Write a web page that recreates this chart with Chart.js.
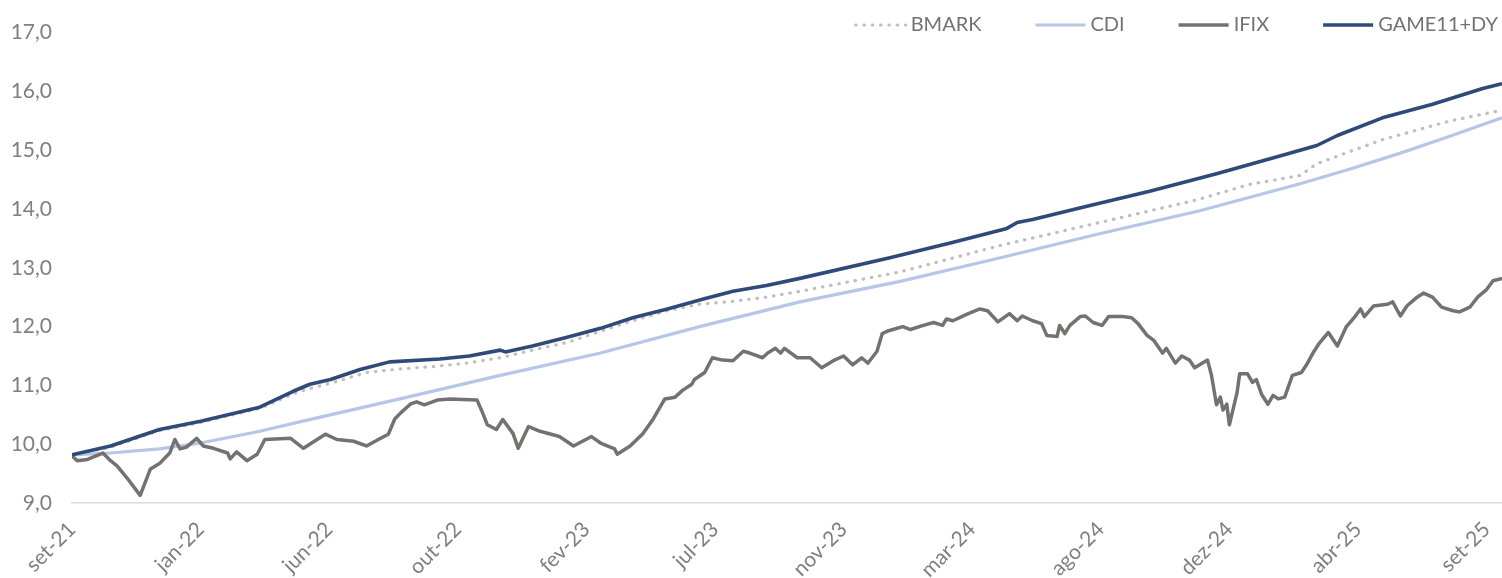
<!DOCTYPE html>
<html>
<head>
<meta charset="utf-8">
<script src="https://cdn.jsdelivr.net/npm/chart.js@4/dist/chart.umd.min.js"></script>
<style>
  html, body { margin: 0; padding: 0; background: #fff; }
  canvas { display: block; }
</style>
</head>
<body>
<canvas id="chart" width="1502" height="578"></canvas>
<script>
// x positions are in "tick interval" units: 0 = set-21, 11 = set-25
const xLabels = ['set-21', 'jan-22', 'jun-22', 'out-22', 'fev-23', 'jul-23', 'nov-23', 'mar-24', 'ago-24', 'dez-24', 'abr-25', 'set-25'];
const xEnd = 11.12;

const gameX = [0, 0.30, 0.68, 1.00, 1.46, 1.72, 1.85, 2.01, 2.24, 2.47, 2.86, 3.09, 3.33, 3.37, 3.58, 3.85, 4.11, 4.36, 4.63, 4.91, 5.14, 5.40, 5.66, 6.36, 6.83, 7.27, 7.35, 7.47, 7.86, 8.38, 8.90, 9.42, 9.68, 9.84, 10.19, 10.58, 10.97, 11.12];
const gameY = [9.82, 9.97, 10.25, 10.39, 10.63, 10.90, 11.02, 11.10, 11.27, 11.40, 11.45, 11.50, 11.60, 11.57, 11.67, 11.82, 11.97, 12.15, 12.30, 12.47, 12.60, 12.70, 12.82, 13.17, 13.42, 13.67, 13.77, 13.82, 14.03, 14.30, 14.60, 14.92, 15.08, 15.25, 15.55, 15.78, 16.05, 16.13];

const bmarkX = [0, 0.30, 0.68, 1.00, 1.46, 1.77, 2.03, 2.29, 2.55, 2.81, 3.07, 3.33, 3.58, 3.85, 4.11, 4.36, 4.63, 4.88, 5.14, 5.40, 5.66, 6.44, 7.22, 7.99, 8.64, 8.77, 9.16, 9.55, 9.68, 10.19, 10.72, 11.12];
const bmarkY = [9.82, 9.95, 10.23, 10.37, 10.61, 10.90, 11.05, 11.22, 11.28, 11.32, 11.38, 11.47, 11.60, 11.73, 11.92, 12.10, 12.27, 12.38, 12.43, 12.50, 12.60, 12.93, 13.38, 13.77, 14.10, 14.17, 14.42, 14.57, 14.77, 15.18, 15.50, 15.68];

const cdiX = [0, 0.30, 0.68, 1.00, 1.46, 1.77, 2.55, 3.33, 4.11, 4.88, 5.66, 6.44, 7.22, 7.99, 8.77, 9.16, 9.55, 9.94, 10.33, 10.72, 11.12];
const cdiY = [9.82, 9.85, 9.92, 10.02, 10.22, 10.38, 10.77, 11.17, 11.55, 12.00, 12.42, 12.77, 13.17, 13.58, 13.97, 14.20, 14.43, 14.68, 14.95, 15.24, 15.55];

const ifixX = [0, 0.04, 0.12, 0.24, 0.30, 0.35, 0.43, 0.53, 0.61, 0.68, 0.76, 0.80, 0.84, 0.89, 0.97, 1.02, 1.10, 1.21, 1.23, 1.28, 1.36, 1.44, 1.50, 1.70, 1.80, 1.97, 2.06, 2.19, 2.29, 2.40, 2.46, 2.51, 2.55, 2.63, 2.68, 2.74, 2.84, 2.94, 3.04, 3.15, 3.19, 3.23, 3.30, 3.35, 3.43, 3.47, 3.55, 3.64, 3.79, 3.90, 3.97, 4.04, 4.11, 4.22, 4.24, 4.34, 4.44, 4.52, 4.61, 4.69, 4.75, 4.82, 4.84, 4.92, 4.98, 5.06, 5.14, 5.22, 5.27, 5.37, 5.41, 5.47, 5.51, 5.54, 5.64, 5.74, 5.83, 5.92, 6.00, 6.07, 6.14, 6.19, 6.26, 6.30, 6.35, 6.46, 6.52, 6.62, 6.70, 6.77, 6.80, 6.85, 6.97, 7.06, 7.12, 7.20, 7.29, 7.35, 7.39, 7.47, 7.54, 7.58, 7.66, 7.68, 7.72, 7.76, 7.84, 7.88, 7.94, 8.01, 8.06, 8.17, 8.24, 8.29, 8.36, 8.41, 8.48, 8.51, 8.58, 8.63, 8.69, 8.73, 8.83, 8.86, 8.90, 8.93, 8.95, 8.98, 9.00, 9.06, 9.08, 9.14, 9.18, 9.21, 9.25, 9.30, 9.34, 9.38, 9.43, 9.49, 9.56, 9.60, 9.65, 9.70, 9.77, 9.84, 9.91, 9.98, 10.02, 10.05, 10.12, 10.23, 10.27, 10.33, 10.38, 10.46, 10.51, 10.58, 10.65, 10.74, 10.79, 10.87, 10.93, 11.00, 11.05, 11.12];
const ifixY = [9.80, 9.72, 9.74, 9.85, 9.72, 9.63, 9.42, 9.13, 9.58, 9.67, 9.85, 10.08, 9.92, 9.95, 10.10, 9.97, 9.93, 9.85, 9.75, 9.87, 9.72, 9.83, 10.08, 10.10, 9.93, 10.17, 10.08, 10.05, 9.97, 10.10, 10.17, 10.43, 10.52, 10.68, 10.72, 10.67, 10.75, 10.77, 10.76, 10.75, 10.55, 10.33, 10.25, 10.42, 10.18, 9.93, 10.30, 10.22, 10.13, 9.97, 10.05, 10.13, 10.02, 9.92, 9.83, 9.97, 10.18, 10.43, 10.77, 10.80, 10.92, 11.02, 11.10, 11.22, 11.47, 11.43, 11.42, 11.58, 11.55, 11.47, 11.55, 11.63, 11.55, 11.63, 11.47, 11.47, 11.30, 11.42, 11.50, 11.35, 11.47, 11.38, 11.58, 11.88, 11.93, 12.00, 11.95, 12.02, 12.07, 12.02, 12.13, 12.10, 12.22, 12.30, 12.27, 12.08, 12.22, 12.10, 12.18, 12.10, 12.05, 11.85, 11.83, 12.02, 11.88, 12.02, 12.17, 12.18, 12.07, 12.02, 12.17, 12.17, 12.15, 12.05, 11.85, 11.77, 11.55, 11.63, 11.38, 11.50, 11.43, 11.30, 11.43, 11.18, 10.67, 10.80, 10.58, 10.68, 10.33, 10.88, 11.20, 11.20, 11.05, 11.10, 10.85, 10.68, 10.83, 10.77, 10.80, 11.17, 11.22, 11.35, 11.55, 11.72, 11.90, 11.67, 12.00, 12.18, 12.30, 12.17, 12.35, 12.38, 12.42, 12.18, 12.35, 12.50, 12.57, 12.50, 12.33, 12.27, 12.25, 12.33, 12.50, 12.63, 12.78, 12.82];

function pairs(xs, ys) {
    return xs.map((x, i) => ({ x: x, y: ys[i] }));
}

// legend drawn inside the plot area, top right, like the original
const lineLegend = {
    id: 'lineLegend',
    afterDraw(chart) {
        const ctx = chart.ctx;
        const y = 25;
        ctx.save();
        ctx.font = '20px Lato';
        ctx.textBaseline = 'middle';
        let x = chart.width - 4;
        chart.data.datasets.slice().reverse().forEach(ds => {
            const w = ctx.measureText(ds.label).width;
            x -= w;
            ctx.fillStyle = '#737373';
            ctx.fillText(ds.label, x, y);
            x -= 5;
            ctx.beginPath();
            ctx.strokeStyle = ds.borderColor;
            ctx.lineWidth = ds.borderWidth;
            ctx.lineCap = ds.borderCapStyle || 'butt';
            ctx.setLineDash(ds.borderDash || []);
            ctx.moveTo(x - 50, y);
            ctx.lineTo(x, y);
            ctx.stroke();
            x -= 50 + 54;
        });
        ctx.restore();
    }
};

const ctx = document.getElementById('chart').getContext('2d');
new Chart(ctx, {
    type: 'line',
    data: {
        datasets: [
            { label: 'BMARK', data: pairs(bmarkX, bmarkY), borderColor: '#bfbfbf', borderWidth: 3.2, borderDash: [0.5, 7.8], borderCapStyle: 'round', order: 4 },
            { label: 'CDI', data: pairs(cdiX, cdiY), borderColor: '#b4c7e7', borderWidth: 3.2, order: 3 },
            { label: 'IFIX', data: pairs(ifixX, ifixY), borderColor: '#767171', borderWidth: 3.5, borderJoinStyle: 'round', order: 2 },
            { label: 'GAME11+DY', data: pairs(gameX, gameY), borderColor: '#2f4a78', borderWidth: 3.6, borderJoinStyle: 'round', order: 1 }
        ]
    },
    options: {
        responsive: false,
        animation: false,
        devicePixelRatio: 1,
        layout: { padding: { top: 23, right: 0, bottom: 0, left: 0 } },
        elements: { point: { radius: 0 }, line: { tension: 0 } },
        plugins: {
            legend: { display: false },
            tooltip: { enabled: false }
        },
        scales: {
            x: {
                type: 'linear',
                min: 0,
                max: xEnd,
                grid: { display: false, drawTicks: false },
                border: { display: true, color: '#d9d9d9', width: 1.5 },
                afterBuildTicks: scale => { scale.ticks = xLabels.map((_, i) => ({ value: i })); },
                afterFit: scale => { scale.height = 75; scale.paddingLeft = 0; scale.paddingRight = 0; },
                ticks: {
                    autoSkip: false,
                    maxRotation: 45,
                    minRotation: 45,
                    padding: 14,
                    color: '#7f7f7f',
                    font: { family: 'Lato', size: 21 },
                    callback: v => xLabels[v]
                }
            },
            y: {
                min: 9,
                max: 17,
                grid: { display: false, drawTicks: false },
                border: { display: false },
                afterFit: scale => { scale.width = 72; },
                ticks: {
                    stepSize: 1,
                    padding: 20,
                    color: '#7f7f7f',
                    font: { family: 'Lato', size: 21 },
                    callback: v => v.toFixed(1).replace('.', ',')
                }
            }
        }
    },
    plugins: [lineLegend]
});
</script>
</body>
</html>
